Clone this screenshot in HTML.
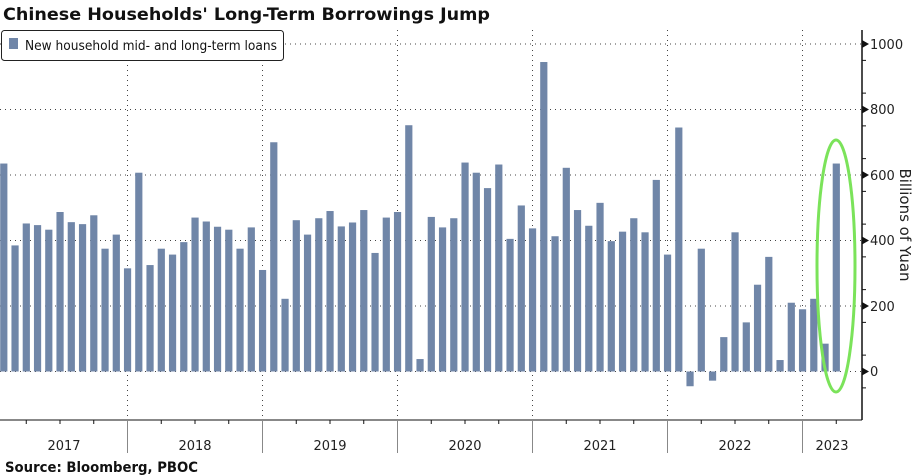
<!DOCTYPE html>
<html><head><meta charset="utf-8"><style>
html,body{margin:0;padding:0;background:#fff;}
svg{display:block;}
</style></head><body>
<svg width="922" height="476" xmlns="http://www.w3.org/2000/svg" font-family="'DejaVu Sans','Liberation Sans',sans-serif">
<rect width="922" height="476" fill="#fff"/>
<text x="3" y="20" font-size="17" font-weight="bold" fill="#111" textLength="487" lengthAdjust="spacingAndGlyphs">Chinese Households' Long-Term Borrowings Jump</text>
<g id="grid" stroke="#444" stroke-width="1" stroke-dasharray="1,4">
<line x1="0" y1="44" x2="862" y2="44"/>
<line x1="0" y1="109.5" x2="862" y2="109.5"/>
<line x1="0" y1="175" x2="862" y2="175"/>
<line x1="0" y1="240.5" x2="862" y2="240.5"/>
<line x1="0" y1="306" x2="862" y2="306"/>
<line x1="0" y1="371.5" x2="862" y2="371.5"/>
<line x1="127.5" y1="30" x2="127.5" y2="420"/>
<line x1="262.5" y1="30" x2="262.5" y2="420"/>
<line x1="397.5" y1="30" x2="397.5" y2="420"/>
<line x1="532.5" y1="30" x2="532.5" y2="420"/>
<line x1="667.5" y1="30" x2="667.5" y2="420"/>
<line x1="802.5" y1="30" x2="802.5" y2="420"/>
</g>
<g id="bars" fill="#7086a8"></g>
<ellipse cx="836" cy="266" rx="19" ry="126" fill="none" stroke="#7be35a" stroke-width="3"/>
<rect x="1.5" y="30.5" width="282" height="30" rx="3" fill="#fff" stroke="#222" stroke-width="1"/>
<rect x="9" y="38" width="9" height="11" fill="#7086a8"/>
<text x="25" y="50" font-size="13.5" fill="#111" textLength="252" lengthAdjust="spacingAndGlyphs">New household mid- and long-term loans</text>
<line x1="0" y1="420" x2="862" y2="420" stroke="#111" stroke-width="1"/>
<line x1="862" y1="30" x2="862" y2="420" stroke="#111" stroke-width="1.5"/>
<g id="ticks" stroke="#111"></g>
<g stroke="#888" stroke-width="1">
<line x1="127.5" y1="420" x2="127.5" y2="453"/><line x1="262.5" y1="420" x2="262.5" y2="453"/>
<line x1="397.5" y1="420" x2="397.5" y2="453"/><line x1="532.5" y1="420" x2="532.5" y2="453"/>
<line x1="667.5" y1="420" x2="667.5" y2="453"/><line x1="802.5" y1="420" x2="802.5" y2="453"/>
</g>
<g font-size="13" fill="#222" text-anchor="middle">
<text x="64" y="450">2017</text><text x="195" y="450">2018</text><text x="330" y="450">2019</text>
<text x="465" y="450">2020</text><text x="600" y="450">2021</text><text x="735" y="450">2022</text><text x="832" y="450">2023</text>
</g>
<g font-size="13" fill="#222">
<text x="870" y="49">1000</text><text x="870" y="114">800</text><text x="870" y="180">600</text>
<text x="870" y="245">400</text><text x="870" y="311">200</text><text x="870" y="376">0</text>
</g>
<g fill="#111">
<path d="M862 40 L869 44 L862 48Z"/><path d="M862 105.5 L869 109.5 L862 113.5Z"/>
<path d="M862 171 L869 175 L862 179Z"/><path d="M862 236.5 L869 240.5 L862 244.5Z"/>
<path d="M862 302 L869 306 L862 310Z"/><path d="M862 367.5 L869 371.5 L862 375.5Z"/>
</g>
<text transform="translate(900,225) rotate(90)" font-size="15" fill="#222" text-anchor="middle">Billions of Yuan</text>
<text x="5" y="472" font-size="14" font-weight="bold" fill="#111" textLength="193" lengthAdjust="spacingAndGlyphs">Source: Bloomberg, PBOC</text>
<script>
var v=[635,385,452,447,433,487,456,450,477,375,418,315,607,325,375,357,395,470,458,442,433,375,440,310,700,222,462,418,468,490,443,455,493,362,470,487,752,38,472,440,468,638,607,560,632,405,507,437,945,413,622,493,445,515,398,427,468,425,585,357,745,-45,375,-28,105,425,150,265,350,35,210,190,222,85,635];
var ns="http://www.w3.org/2000/svg",g=document.getElementById('bars'),k=0.3275,z=371.5;
v.forEach(function(d,i){var r=document.createElementNS(ns,'rect');var cx=3.8+i*11.25;r.setAttribute('x',cx-3.6);r.setAttribute('width',7.2);
var y=d>=0?z-d*k:z;r.setAttribute('y',y);r.setAttribute('height',Math.abs(d)*k);g.appendChild(r);});
var t=document.getElementById('ticks');
for(var i=0;i<26;i++){var x=26.25+i*33.75;if(x>862)break;var l=document.createElementNS(ns,'line');l.setAttribute('x1',x);l.setAttribute('x2',x);l.setAttribute('y1',420);l.setAttribute('y2',424);t.appendChild(l);}
for(var j=0;j<12;j++){var y=44+32.75*j+16.375;if(y>420)break;var l=document.createElementNS(ns,'line');l.setAttribute('x1',862);l.setAttribute('x2',866);l.setAttribute('y1',y);l.setAttribute('y2',y);t.appendChild(l);}
</script>
</svg>
</body></html>
